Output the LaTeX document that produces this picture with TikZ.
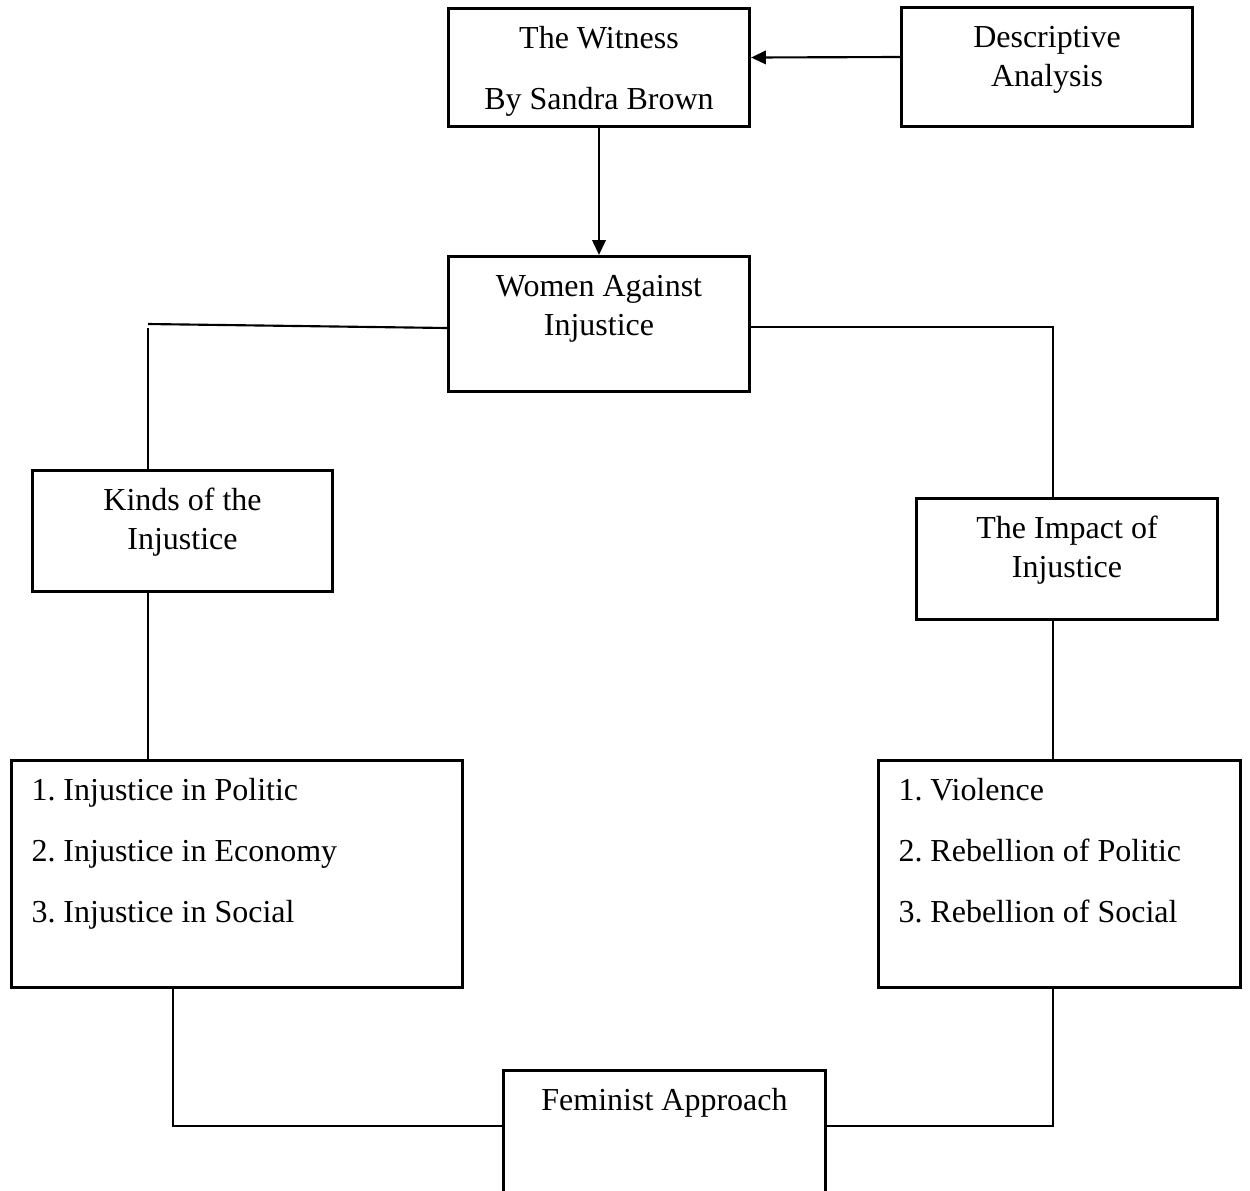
\documentclass[tikz,border=0pt]{standalone}
\usepackage{fontspec}
\setmainfont{Liberation Serif}
\usepackage{tikz}
\usetikzlibrary{arrows.meta}

\newcommand{\boxtext}[3]{\parbox[c][#2][t]{#1}{\centering\rule{0pt}{30pt}#3}}
\newcommand{\listtext}[3]{\parbox[c][#2][t]{#1}{\raggedright\leftskip=15pt\rule{0pt}{30pt}#3}}

\begin{document}
\frenchspacing
\begin{tikzpicture}[x=0.75pt,y=0.75pt,yscale=-1,xscale=1,
  box/.style={draw, line width=2.4pt, inner sep=0pt, font=\fontsize{24}{29}\selectfont},
  link/.style={line width=1.6pt},
  arrow/.style={link, -{Triangle[length=11pt,width=10pt]}}]
\path[use as bounding box, clip] (0,0) rectangle (1250,1190);

%Shape: Rectangle [witness]
\node[box] (witness) at (599,67.5) {\boxtext{225.75pt}{88.5pt}{The Witness\\[16.75pt] By Sandra Brown}};
%Shape: Rectangle [descriptive]
\node[box] (descriptive) at (1047,67) {\boxtext{218.25pt}{89.25pt}{Descriptive\\ Analysis}};
%Shape: Rectangle [women]
\node[box] (women) at (599,324) {\boxtext{225.75pt}{101.25pt}{Women Against\\ Injustice}};
%Shape: Rectangle [kinds]
\node[box] (kinds) at (182.5,531) {\boxtext{225pt}{90.75pt}{Kinds of the\\ Injustice}};
%Shape: Rectangle [impact]
\node[box] (impact) at (1067,559) {\boxtext{225.75pt}{90.75pt}{The Impact of\\ Injustice}};
%Shape: Rectangle [kinds list]
\node[box] (kindslist) at (237,874) {\listtext{338.25pt}{170.25pt}{1. Injustice in Politic\\[16.75pt] 2. Injustice in Economy\\[16.75pt] 3. Injustice in Social}};
%Shape: Rectangle [impact list]
\node[box] (impactlist) at (1059.5,874) {\listtext{271.5pt}{170.25pt}{1. Violence\\[16.75pt] 2. Rebellion of Politic\\[16.75pt] 3. Rebellion of Social}};
%Shape: Rectangle [feminist]
\node[box] (feminist) at (664.5,1164.5) {\boxtext{241.5pt}{141pt}{Feminist Approach}};

%Corners of the connectors
\coordinate (lcorner) at (148,324);
\coordinate (rcorner) at (1053,327);
\coordinate (lbottom) at (173,1126);
\coordinate (rbottom) at (1053,1126);

%Arrows
\draw[arrow] ([yshift=-7.5pt]descriptive.west) -- ([yshift=-7.5pt]witness.east);
\draw[arrow] (witness.south) -- (women.north);

%Left branch
\draw[link] ([yshift=3pt]women.west) -- (lcorner);
\draw[link] ([yshift=3pt]lcorner) -- (lcorner |- kinds.north);
\draw[link] (lcorner |- kinds.south) -- (lcorner |- kindslist.north);
\draw[link] (lbottom |- kindslist.south) -- (lbottom) -- (feminist.west |- lbottom);

%Right branch
\draw[link] ([yshift=2.25pt]women.east) -- (rcorner) -- (rcorner |- impact.north);
\draw[link] (rcorner |- impact.south) -- (rcorner |- impactlist.north);
\draw[link] (rbottom |- impactlist.south) -- (rbottom) -- (feminist.east |- rbottom);
\end{tikzpicture}
\end{document}
